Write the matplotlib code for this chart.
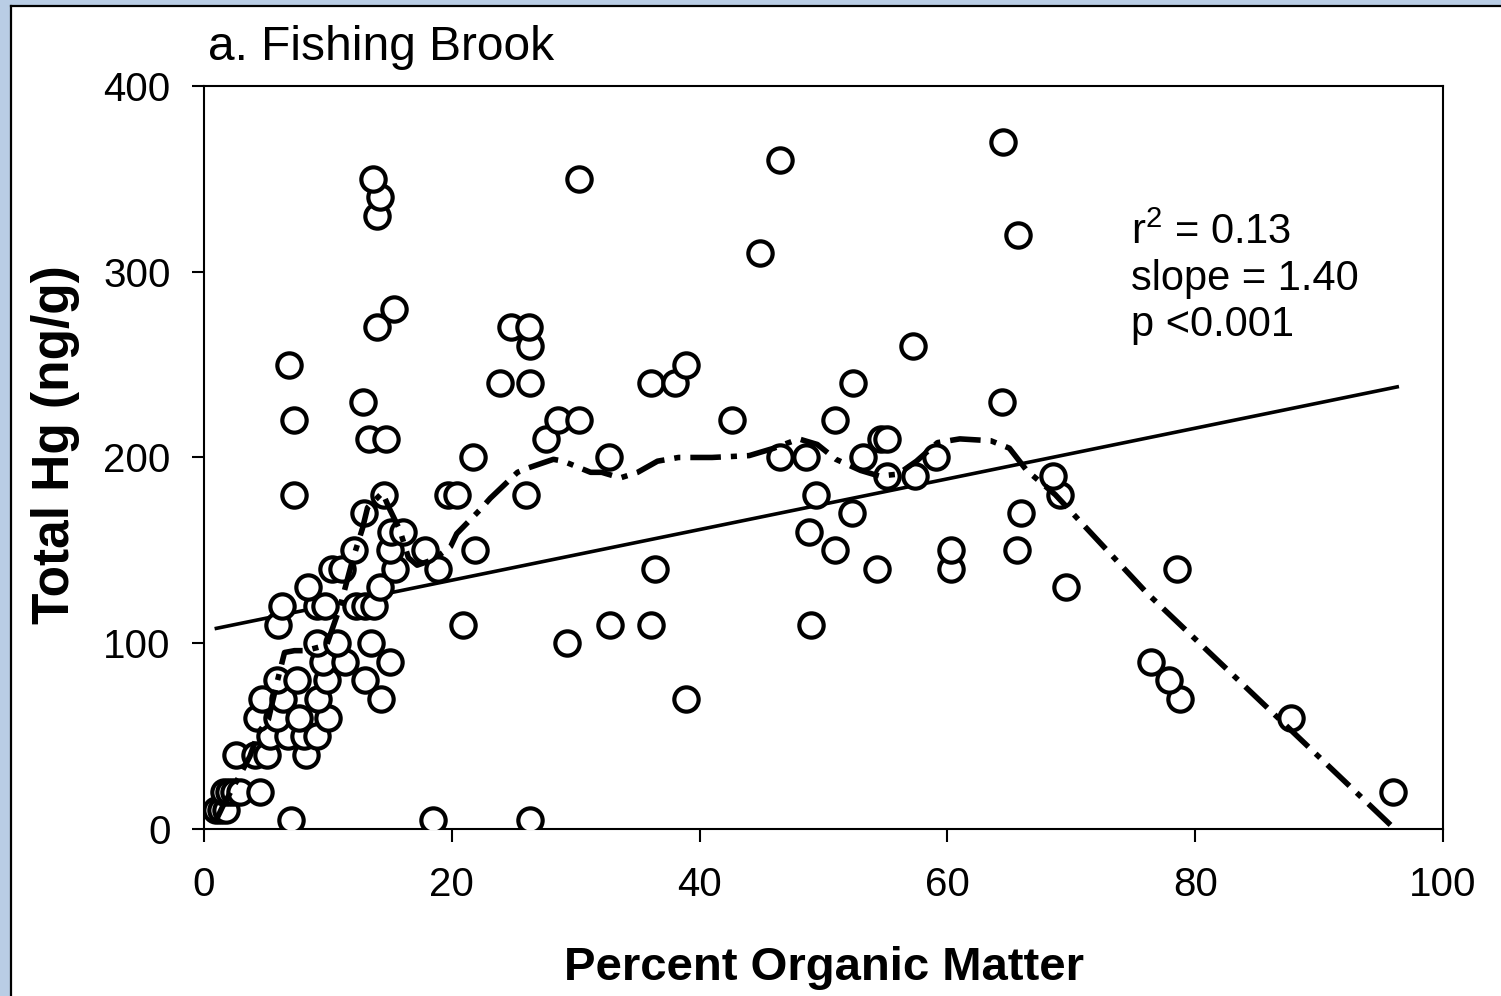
import matplotlib.pyplot as plt
from matplotlib.patches import Rectangle
from matplotlib.lines import Line2D

plt.rcParams['font.family'] = ['Liberation Sans', 'DejaVu Sans']
plt.rcParams['mathtext.fontset'] = 'custom'
plt.rcParams['mathtext.rm'] = 'Liberation Sans'
plt.rcParams['mathtext.default'] = 'regular'

# observations: percent organic matter vs total Hg (ng/g)
om = [1.0, 1.4, 1.8, 1.6, 2.0, 2.4, 2.9, 4.5,
      7.0, 18.5, 26.3,
      2.6, 4.1, 5.1, 8.2,
      5.3, 6.8, 8.1, 9.1,
      4.3, 5.9, 7.7, 10.0,
      4.7, 6.4, 9.2, 14.3,
      5.9, 7.5, 9.9, 13.0,
      9.6, 11.4, 15.0,
      9.1, 10.7, 13.5, 29.3,
      6.0, 20.9, 32.8, 36.1, 49.0,
      6.3, 9.1, 9.8, 12.3, 13.0, 13.7,
      8.4, 14.2, 69.6,
      10.3, 11.1, 15.4, 18.9, 36.4, 54.3, 60.3, 78.5,
      12.1, 15.0, 17.8, 21.9, 50.9, 60.3, 65.6,
      15.1, 16.1, 48.8,
      12.9, 52.3, 65.9,
      7.3, 14.5, 19.7, 20.4, 26.0, 49.4, 69.1,
      55.1, 57.4, 68.5,
      21.7, 32.7, 46.5, 48.6, 53.2, 59.1,
      13.3, 14.7, 27.6, 54.6, 55.1,
      7.3, 28.6, 30.3, 42.6, 50.9,
      12.8, 64.4,
      23.9, 26.3, 36.1, 38.0, 52.4,
      6.9, 38.9,
      26.3, 57.2,
      14.0, 24.8, 26.2,
      15.3, 44.9, 65.7, 14.0, 14.2, 13.6, 30.3, 46.5, 64.5,
      96.0, 87.7, 38.9, 78.8, 77.9, 76.4]
hg = [10, 10, 10, 20, 20, 20, 20, 20,
      5, 5, 5,
      40, 40, 40, 40,
      50, 50, 50, 50,
      60, 60, 60, 60,
      70, 70, 70, 70,
      80, 80, 80, 80,
      90, 90, 90,
      100, 100, 100, 100,
      110, 110, 110, 110, 110,
      120, 120, 120, 120, 120, 120,
      130, 130, 130,
      140, 140, 140, 140, 140, 140, 140, 140,
      150, 150, 150, 150, 150, 150, 150,
      160, 160, 160,
      170, 170, 170,
      180, 180, 180, 180, 180, 180, 180,
      190, 190, 190,
      200, 200, 200, 200, 200, 200,
      210, 210, 210, 210, 210,
      220, 220, 220, 220, 220,
      230, 230,
      240, 240, 240, 240, 240,
      250, 250,
      260, 260,
      270, 270, 270,
      280, 310, 320, 330, 340, 350, 350, 360, 370,
      20, 60, 70, 70, 80, 90]

# linear fit end points
fit_x = [1.0, 96.3]
fit_y = [108, 238]

# loess smooth
lo_x = [1.0, 1.5, 2.9, 3.7, 4.4, 5.2, 5.9, 6.5, 7.3, 8.2, 9.9, 11.0, 12.0, 12.8,
        13.2, 14.4, 15.0, 15.8, 16.5, 17.2, 18.5, 19.9, 20.4, 22.3, 23.1, 25.3,
        26.0, 28.2, 29.0, 31.2, 32.1, 33.6, 35.0, 36.6, 38.3, 41.0, 44.0, 46.0,
        48.0, 49.5, 51.0, 53.0, 54.5, 56.0, 57.5, 59.2, 61.0, 63.5, 65.0, 66.4,
        68.7, 76.1, 96.1]
lo_y = [5, 12, 29, 39, 52, 59, 79, 95, 96, 96, 99, 120, 145, 162,
        173, 181, 172, 161, 146, 142, 145, 152, 159, 172, 178, 192,
        194, 199, 198, 192, 192, 189, 192, 198, 200, 200, 201, 205,
        210, 207, 199, 193, 190, 191, 198, 208, 210, 209, 205, 193,
        180, 127, 0]

fig = plt.figure(figsize=(15.01, 9.96), dpi=100)
ax = fig.add_axes([0.1359, 0.1677, 0.8255, 0.746])

ax.plot(fit_x, fit_y, color='black', lw=2.6, zorder=2)
ax.plot(om, hg, ls='none', marker='o', ms=17.5, mfc='white', mec='black',
        mew=3.0, zorder=3)
ax.plot(lo_x, lo_y, color='black', lw=4.0, dashes=(5.5, 1.8, 1.1, 1.8),
        dash_capstyle='butt', zorder=4)

ax.set_xlim(0, 100)
ax.set_ylim(0, 400)
ax.set_xticks([0, 20, 40, 60, 80, 100])
ax.set_yticks([0, 100, 200, 300, 400])
ax.tick_params(direction='out', length=9, width=1.5, labelsize=29, pad=15)
ax.tick_params(axis='x', pad=18)
for s in ax.spines.values():
    s.set_linewidth(1.5)

ax.set_xlabel('Percent Organic Matter', fontsize=34, fontweight='bold', va='center')
ax.xaxis.set_label_coords(0.5, -0.187)
ax.set_ylabel('Total Hg (ng/g)', fontsize=37, fontweight='bold', va='center')
ax.yaxis.set_label_coords(-0.12, 0.517)

ax.text(0.003, 1.035, 'a. Fishing Brook', transform=ax.transAxes, fontsize=34.5,
        ha='left', va='baseline')
ax.text(0.748, 0.83, 'r$^2$ = 0.13\nslope = 1.40\np <0.001', transform=ax.transAxes,
        fontsize=30, ha='left', va='top', linespacing=1.2)

# slide frame: light blue strip on left and top, thin black border
fig.patches.append(Rectangle((0, 0), 10 / 1501, 1, transform=fig.transFigure,
                             facecolor='#b9cde5', edgecolor='none'))
fig.patches.append(Rectangle((0, 1 - 5 / 996), 1, 5 / 996, transform=fig.transFigure,
                             facecolor='#b9cde5', edgecolor='none'))
fig.lines.append(Line2D([11 / 1501, 11 / 1501], [0, 1 - 6 / 996], transform=fig.transFigure,
                        color='black', lw=1.6))
fig.lines.append(Line2D([11 / 1501, 1], [1 - 6 / 996, 1 - 6 / 996], transform=fig.transFigure,
                        color='black', lw=1.6))

fig.savefig('out.png', dpi=100)
